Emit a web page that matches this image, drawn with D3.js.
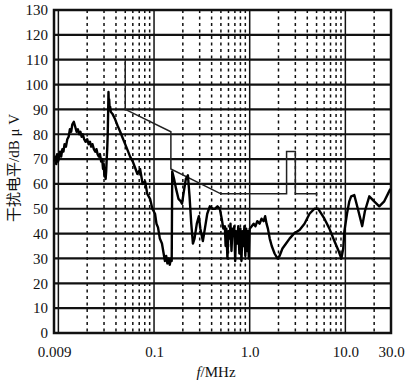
<!DOCTYPE html>
<html lang="zh">
  <head>
    <meta charset="UTF-8" />
    <script src="https://d3js.org/d3.v7.min.js"></script>
    <style>
      body { margin: 0; background: #fff; }
      text { font-family: "Liberation Serif", "Noto Sans CJK SC", serif; fill: #111; }
    </style>
  </head>
  <body>
    <div id="chart"></div>
    <script>
      // axis ticks
      const yTicks = d3.range(0, 131, 10);
      const xLabelValues = [0.009, 0.1, 1, 10, 30];
      const xLabelText = ["0.009", "0.1", "1.0", "10.0", "30.0"];
      const decades = [0.01, 0.1, 1, 10];

      // limit line (MHz, dBuV)
      const limitF = [0.05, 0.05, 0.15, 0.15, 0.5, 2.43, 2.43, 3.0, 3.0, 5.0, 5.0];
      const limitV = [110, 90, 81, 66, 56, 56, 73, 73, 56, 56, 55];

      const traceF = [
        0.0091, 0.0093, 0.0095, 0.0097, 0.0099, 0.0101, 0.0104, 0.0107, 0.011, 0.0113,
        0.0116, 0.012, 0.0124, 0.0128, 0.0132, 0.0136, 0.014, 0.0145, 0.015, 0.0155,
        0.016, 0.0165, 0.017, 0.0175, 0.018, 0.0186, 0.0192, 0.02, 0.0207, 0.0214,
        0.022, 0.0227, 0.0235, 0.0243, 0.025, 0.0257, 0.0265, 0.0272, 0.028, 0.0287,
        0.0293, 0.0298, 0.0303, 0.0308, 0.0312, 0.0316, 0.032, 0.0324, 0.0328, 0.0331,
        0.0334, 0.0337, 0.034, 0.0344, 0.0348, 0.0353, 0.037, 0.0392, 0.0415, 0.0443,
        0.047, 0.0499, 0.053, 0.0562, 0.06, 0.0634, 0.067, 0.0715, 0.076, 0.0806,
        0.085, 0.0909, 0.096, 0.1024, 0.106, 0.11, 0.115, 0.121, 0.126, 0.13,
        0.134, 0.138, 0.142, 0.146, 0.15, 0.153, 0.155, 0.162, 0.17, 0.18,
        0.19, 0.196, 0.205, 0.215, 0.226, 0.235, 0.245, 0.255, 0.265, 0.28,
        0.294, 0.305, 0.324, 0.34, 0.36, 0.383, 0.41, 0.432, 0.46, 0.487,
        0.51, 0.53, 0.55, 0.56, 0.57, 0.585, 0.6, 0.615, 0.63, 0.645,
        0.66, 0.675, 0.69, 0.705, 0.72, 0.74, 0.76, 0.78, 0.8, 0.82,
        0.84, 0.86, 0.88, 0.9, 0.92, 0.94, 0.96, 0.98, 1.0, 1.05,
        1.1, 1.15, 1.2, 1.27, 1.33, 1.4, 1.45, 1.5, 1.55, 1.62,
        1.7, 1.82, 1.95, 2.05, 2.2, 2.4, 2.61, 2.9, 3.32, 3.74,
        4.22, 4.75, 5.2, 5.6, 6.04, 6.81, 7.68, 8.5, 9.08, 9.5,
        9.77, 10.4, 11.0, 11.5, 12.4, 13.5, 15.0, 16.0, 17.8, 20.0,
        22.6, 25.5, 28.7, 29.6
      ];
      const traceV = [
        69, 71, 68, 72, 69, 70, 73, 71, 74, 73,
        76, 75, 78, 79, 82, 81, 84, 85, 83, 81,
        82, 80, 81, 79, 80, 78, 77, 78, 76, 77,
        75, 76, 74, 73, 74, 72, 71, 72, 69, 70,
        66, 68, 63, 66, 62, 65, 70, 74, 80, 88,
        97, 92, 94, 90, 91, 89, 88, 86, 83.5, 81,
        78.5, 76, 73.5, 71, 69, 66.5, 64, 66, 60, 61,
        56, 54, 50, 48, 44, 42.5, 38, 36, 32, 29,
        31, 28, 30, 27.5, 30, 29, 65, 62, 58, 54,
        53, 52, 57, 62, 63.5, 55, 44, 36, 38, 44,
        47, 42, 37, 42, 48, 51, 50, 50, 51, 50,
        46, 42, 43, 35, 42, 30, 41, 38, 44, 33,
        42, 39, 43, 29, 41, 36, 43, 32, 42, 29,
        41, 35, 43, 31, 42, 33, 41, 30, 42, 43,
        44, 43, 45, 44, 46, 45, 47, 44, 42, 38,
        35, 32, 30, 31, 34, 36, 38, 40, 41.5, 44,
        48, 50, 50, 48, 46, 42, 37, 33, 30, 34,
        41, 48, 53, 55, 55.5, 50, 43, 49, 55, 53,
        51, 53, 57, 58
      ];

      const W = 414, H = 386;
      const plotL = 54, plotR = 391, plotT = 10, plotB = 333;

      const svg = d3.select("#chart").append("svg")
        .attr("width", W).attr("height", H);

      const x = d3.scaleLog().domain([0.009, 30]).range([plotL, plotR]);
      const y = d3.scaleLinear().domain([0, 130]).range([plotB, plotT]);

      // minor (dashed) vertical grid: 2..9 of each decade, plus 20
      const minor = [];
      decades.forEach(d => {
        for (let k = 2; k <= 9; k++) {
          if (d * k < 30) minor.push(d * k);
        }
      });

      svg.append("g").selectAll("line").data(minor).join("line")
        .attr("x1", d => x(d)).attr("x2", d => x(d))
        .attr("y1", plotT).attr("y2", plotB)
        .attr("stroke", "#111").attr("stroke-width", 1.5)
        .attr("stroke-dasharray", "3,3.5");

      svg.append("g").selectAll("line").data(decades).join("line")
        .attr("x1", d => x(d)).attr("x2", d => x(d))
        .attr("y1", plotT).attr("y2", plotB)
        .attr("stroke", "#111").attr("stroke-width", 1.5);

      // horizontal grid
      svg.append("g").selectAll("line").data(yTicks).join("line")
        .attr("x1", plotL).attr("x2", plotR)
        .attr("y1", d => y(d)).attr("y2", d => y(d))
        .attr("stroke", "#111").attr("stroke-width", 2.2);

      // frame
      svg.append("rect")
        .attr("x", plotL).attr("y", plotT)
        .attr("width", plotR - plotL).attr("height", plotB - plotT)
        .attr("fill", "none").attr("stroke", "#111").attr("stroke-width", 2.5);

      // limit line
      const limit = limitF.map((f, i) => [f, limitV[i]]);
      svg.append("path")
        .datum(limit)
        .attr("d", d3.line().x(d => x(d[0])).y(d => y(d[1])))
        .attr("fill", "none").attr("stroke", "#222").attr("stroke-width", 1.5);

      // measured trace
      const trace = traceF.map((f, i) => [f, traceV[i]]);
      svg.append("path")
        .datum(trace)
        .attr("d", d3.line().x(d => x(d[0])).y(d => y(d[1])))
        .attr("fill", "none").attr("stroke", "#000").attr("stroke-width", 2.4)
        .attr("stroke-linejoin", "round");

      // y axis labels
      const yAxis = svg.append("g")
        .attr("transform", `translate(${plotL},0)`)
        .call(d3.axisLeft(y).tickValues(yTicks).tickSize(0).tickPadding(6));
      yAxis.select(".domain").remove();
      yAxis.selectAll("text").style("font-size", "15px").style("font-family", "Liberation Serif");

      // x axis labels
      const xAxis = svg.append("g")
        .attr("transform", `translate(0,${plotB})`)
        .call(d3.axisBottom(x).tickValues(xLabelValues)
          .tickFormat((d, i) => xLabelText[i]).tickSize(0).tickPadding(13));
      xAxis.select(".domain").remove();
      xAxis.selectAll("text").style("font-size", "15px").style("font-family", "Liberation Serif");

      // axis titles
      const xt = svg.append("text")
        .attr("x", 216).attr("y", 377)
        .attr("text-anchor", "middle")
        .style("font-size", "15px");
      xt.append("tspan").style("font-style", "italic").text("f");
      xt.append("tspan").text("/MHz");

      svg.append("text")
        .attr("transform", "translate(19,168) rotate(-90)")
        .attr("text-anchor", "middle")
        .style("font-size", "15px")
        .text("干扰电平/dB μ V");
    </script>
  </body>
</html>
